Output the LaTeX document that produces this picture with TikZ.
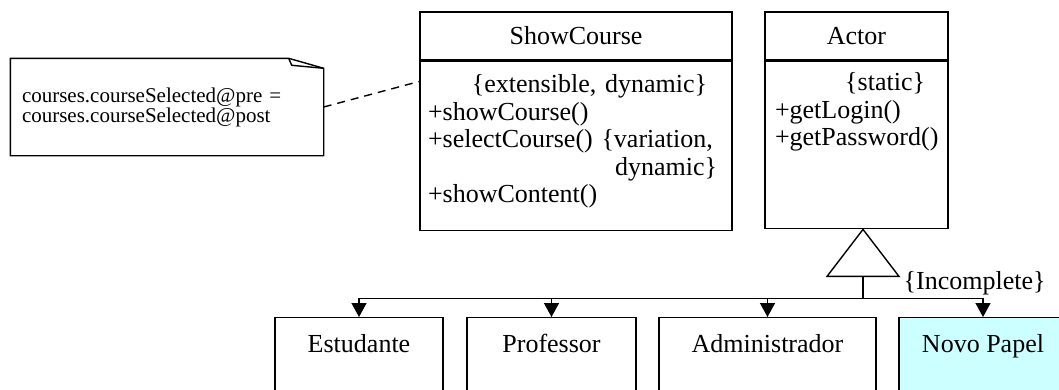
\documentclass[tikz,border=0pt]{standalone}
\usepackage{fontspec}
\setmainfont{Liberation Serif}
\usetikzlibrary{arrows.meta,calc}
\definecolor{papel}{RGB}{204,255,255}
\tikzset{gen/.style={-{Triangle[length=14pt,width=15pt]}},
  head/.style={draw, line width=2pt, minimum height=48pt},
  body/.style={draw, anchor=north},
  ops/.style={anchor=north west, inner sep=0pt, align=left},
  kid/.style={draw, anchor=north, minimum width=168pt, text height=20pt, text depth=60pt, inner ysep=15pt}}

\begin{document}
\begin{tikzpicture}[x=1pt, y=-1pt, line width=1.4pt, font=\fontsize{26}{27.5}\selectfont]
  \useasboundingbox (0,0) rectangle (1059,389);
  \clip (0,0) rectangle (1059,389);
  % ShowCourse class
  \node[head, minimum width=312pt] (sc) at (576,36) {ShowCourse};
  \node[body, minimum width=312pt, minimum height=169pt] (scb) at (sc.south) {};
  \node[ops, text width=295pt] (scops) at ($(scb.north west)+(8,13)$)
    {\hfill\{extensible, dynamic\}\hspace{16pt}\mbox{}\\
     +showCourse()\\
     +selectCourse() \{variation,\\
     \hfill dynamic\}\hspace{6pt}\mbox{}\\
     +showContent()};
  % Actor class
  \node[head, minimum width=183pt] (act) at (856.5,36) {Actor};
  \node[body, minimum width=183pt, minimum height=167pt] (actb) at (act.south) {};
  \node[ops, text width=172pt] (actops) at ($(actb.north west)+(10,11)$)
    {\hfill\{static\}\hspace{22pt}\mbox{}\\
     +getLogin()\\
     +getPassword()};
  % note on the left
  \node[align=left, text width=290pt, inner xsep=11pt, minimum height=96pt,
    font=\fontsize{21}{20}\selectfont] (note) at (167,107)
    {courses.courseSelected@pre =\\ courses.courseSelected@post};
  \draw (note.south west) -- (note.north west) -- ($(note.north east)+(-35,0)$)
    -- ($(note.north east)+(0,10)$) -- (note.south east) -- cycle;
  \draw ($(note.north east)+(-35,0)$) -- ++(3,7) -- ($(note.north east)+(0,10)$);
  \draw[dash pattern=on 8pt off 6pt] (note.east) -- ($(scb.north west)!0.12!(scb.south west)$);
  % subclasses
  \node[kid] (stu) at (359,317) {Estudante};
  \node[kid, minimum width=169pt] (prof) at (551.5,317) {Professor};
  \node[kid, minimum width=217pt] (adm) at (767.5,317) {Administrador};
  \node[kid, fill=papel] (nov) at (983,317) {Novo Papel};
  % generalization
  \coordinate (apex) at ($(actb.south)+(6.5,0)$);
  \coordinate (tribase) at ($(apex)+(0,47)$);
  \coordinate (bus) at ($(tribase)+(0,22)$);
  \draw (apex) -- ++(36,47) -- ++(-72,0) -- cycle;
  \draw (tribase) -- (bus);
  \draw (bus -| stu.north) -- (bus -| nov.north);
  \foreach \c in {stu,prof,adm,nov}
    \draw[gen] (bus -| \c.north) -- (\c.north);
  \node[anchor=base west, inner sep=0pt] (incl) at ($(tribase)+(40,13)$) {\{Incomplete\}};
\end{tikzpicture}
\end{document}
